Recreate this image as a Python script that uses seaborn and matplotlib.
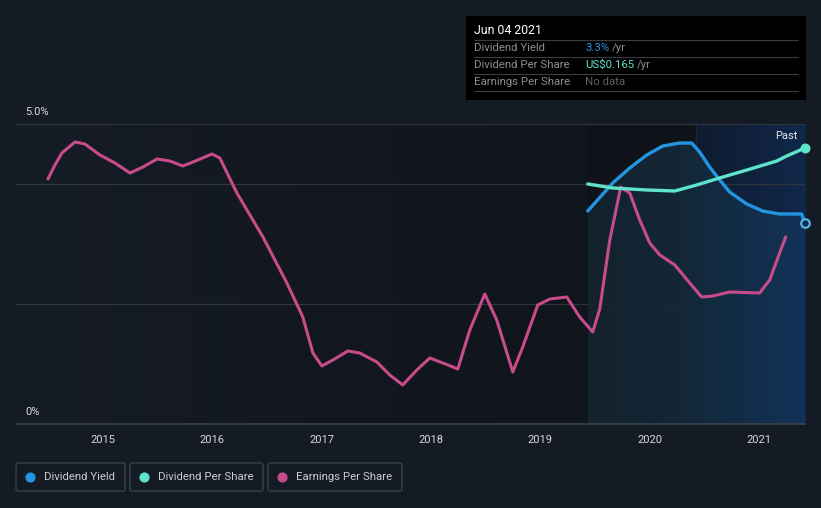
import numpy as np
import pandas as pd
import matplotlib
matplotlib.use("Agg")
import matplotlib.pyplot as plt
import seaborn as sns
from matplotlib.colors import LinearSegmentedColormap
from matplotlib.patches import FancyBboxPatch

sns.set_theme(style="dark")
plt.rcParams['font.family'] = ['Roboto', 'DejaVu Sans']

# ---------------- data ----------------
yield_years = [2019.433, 2019.662, 2019.817, 2019.973, 2020.119, 2020.274,
               2020.384, 2020.457, 2020.548, 2020.640, 2020.731, 2020.887,
               2021.033, 2021.188, 2021.389]
yield_pct = [3.550, 4.017, 4.267, 4.483, 4.633, 4.683,
             4.683, 4.533, 4.283, 4.067, 3.867, 3.667,
             3.550, 3.500, 3.500]
yield_last_year = [2021.42]
yield_last = [3.35]

dps_years = [2019.433, 2019.662, 2019.973, 2020.229, 2020.430, 2020.640,
             2020.887, 2021.161, 2021.252, 2021.398, 2021.42]
dps_usd = [0.1435, 0.1411, 0.1399, 0.1393, 0.1429, 0.1471,
           0.1518, 0.1572, 0.1602, 0.1644, 0.1650]

eps_years = [2014.497, 2014.561, 2014.625, 2014.744, 2014.835, 2014.973,
             2015.110, 2015.247, 2015.366, 2015.494, 2015.612, 2015.731,
             2015.868, 2015.996, 2016.069, 2016.225, 2016.463, 2016.682,
             2016.828, 2016.920, 2017.002, 2017.103, 2017.240,
             2017.349, 2017.505, 2017.623, 2017.742, 2017.870, 2017.989,
             2018.108, 2018.245, 2018.355, 2018.492, 2018.601, 2018.748,
             2018.839, 2018.976, 2019.086, 2019.241, 2019.360, 2019.479,
             2019.543, 2019.635, 2019.735, 2019.817, 2019.909, 2020.000,
             2020.092, 2020.229, 2020.366, 2020.475, 2020.576, 2020.731,
             2021.005, 2021.097, 2021.188, 2021.243]
eps_rel = [4.083, 4.317, 4.517, 4.700, 4.667, 4.483,
           4.350, 4.183, 4.283, 4.417, 4.383, 4.300,
           4.400, 4.500, 4.433, 3.850, 3.117, 2.350,
           1.783, 1.183, 0.967, 1.067, 1.217,
           1.183, 1.033, 0.817, 0.650, 0.900, 1.100,
           1.017, 0.917, 1.567, 2.167, 1.733, 0.867,
           1.283, 1.983, 2.083, 2.117, 1.783, 1.533,
           1.917, 3.067, 3.950, 3.850, 3.400, 3.017,
           2.817, 2.650, 2.350, 2.117, 2.133, 2.200,
           2.183, 2.400, 2.850, 3.117]

year_ticks = [2015, 2016, 2017, 2018, 2019, 2020, 2021]
y_tick_labels = ["0%", "5.0%"]

# ---------------- style ----------------
BG = "#151b24"
C_YIELD = "#2394df"
C_DPS = "#5fe3cb"
C_EPS = "#c84b8c"
XMIN, XMAX = 2014.205, 2021.42
PAST_START = 2020.42
SHADE_START = 2019.433

fig = plt.figure(figsize=(8.21, 5.08), dpi=100, facecolor=BG)
ax = fig.add_axes([16/821, 84/508, 789/821, 300/508])
ax.set_facecolor(BG)
ax.set_xlim(XMIN, XMAX)
ax.set_ylim(0, 5)

grad = np.linspace(0, 1, 256).reshape(1, -1)
bg_cmap = LinearSegmentedColormap.from_list("bg", ["#161c25", "#10141b"])
ax.imshow(grad, extent=[XMIN, SHADE_START, 0, 5], aspect="auto", cmap=bg_cmap,
          zorder=0, origin="lower")
ax.axvspan(SHADE_START, PAST_START, color="#0f1319", zorder=0.1, lw=0)
past_cmap = LinearSegmentedColormap.from_list("past", ["#0e1b2f", "#10284a"])
ax.imshow(grad, extent=[PAST_START, XMAX, 0, 5], aspect="auto", cmap=past_cmap,
          zorder=0.2, origin="lower")
ax.axvline(PAST_START, color="#14294a", lw=1, zorder=0.3)

for gy in [2.0, 4.0, 5.0]:
    ax.axhline(gy, color="#2f353e", lw=0.9, zorder=0.5)

# area under dividend yield (gradient clipped to polygon)
fy = list(yield_years) + [yield_last_year[0]]
fv = list(yield_pct) + [yield_last[0]]
poly = ax.fill_between(fy, fv, 0, color="none", lw=0, zorder=0.6)
area_cmap = LinearSegmentedColormap.from_list("area", ["#14242f", "#142b3e", "#13345a"])
img = ax.imshow(grad, extent=[SHADE_START, XMAX, 0, 5],
                aspect="auto", cmap=area_cmap, zorder=0.6, origin="lower", alpha=0.9)
img.set_clip_path(poly.get_paths()[0], transform=ax.transData)
ax.set_xlim(XMIN, XMAX)
ax.set_ylim(0, 5)

line_kw = dict(solid_joinstyle="round", solid_capstyle="round")
sns.lineplot(x=eps_years, y=eps_rel, ax=ax, color=C_EPS, lw=2.2, zorder=3,
             sort=False, **line_kw)
sns.lineplot(x=fy, y=fv, ax=ax, color=C_YIELD, lw=2.4, zorder=4,
             sort=False, **line_kw)
ax.scatter(yield_last_year, yield_last, s=38, facecolor="#0e2a4a",
           edgecolor="#5bb8f5", lw=1.5, zorder=6, clip_on=False)

ax2 = ax.twinx()
ax2.set_ylim(0, 0.165 * 300 / 276)
sns.lineplot(x=dps_years, y=dps_usd, ax=ax2, color=C_DPS, lw=2.4, zorder=4,
             sort=False, **line_kw)
ax2.scatter([dps_years[-1]], [dps_usd[-1]], s=38, color=C_DPS, zorder=6,
            clip_on=False)
ax2.set_yticks([])
ax2.set_ylabel("")
for s in ax2.spines.values():
    s.set_visible(False)
ax2.set_xlim(XMIN, XMAX)

for s in ax.spines.values():
    s.set_visible(False)
ax.axhline(0, color="#3d434c", lw=1.2, zorder=5, clip_on=False)
ax.set_yticks([])
ax.set_xticks(year_ticks)
ax.set_xticklabels([str(y) for y in year_ticks], color="#d6d9de", fontsize=8)
ax.tick_params(axis="x", length=4, width=1, color="#3d434c", pad=4)
ax.set_xlabel("")
ax.set_ylabel("")

fig.text(25/821, (508-112)/508, y_tick_labels[1], color="#d6d9de", fontsize=8,
         va="center", ha="left")
fig.text(25/821, (508-412)/508, y_tick_labels[0], color="#d6d9de", fontsize=8,
         va="center", ha="left")
fig.text(797/821, (508-136)/508, "Past", color="#e6e8eb", fontsize=8,
         va="center", ha="right", zorder=10)

# tooltip box
tip = fig.add_axes([466/821, (508-100)/508, 340/821, 84/508])
tip.set_facecolor("#000000")
tip.set_xticks([]); tip.set_yticks([])
for s in tip.spines.values():
    s.set_visible(False)
tip.set_xlim(466, 806); tip.set_ylim(100, 16)
tip.text(474, 31, "Jun 04 2021", color="#ffffff", fontsize=8.8, va="center")
rows = [("Dividend Yield", "3.3%", C_YIELD),
        ("Dividend Per Share", "US$0.165", C_DPS),
        ("Earnings Per Share", "No data", "#5c6068")]
fig.canvas.draw()
for i, (lab, val, col) in enumerate(rows):
    yy = 48 + i * 17
    tip.plot([474, 798], [yy - 8.5, yy - 8.5], color="#3a3d42", lw=0.8)
    tip.text(474, yy, lab, color="#8a8e95", fontsize=8.2, va="center")
    t = tip.text(585, yy, val, color=col, fontsize=8.2, va="center")
    if i < 2:
        fig.canvas.draw()
        bb = t.get_window_extent().transformed(tip.transData.inverted())
        tip.text(bb.x1 + 3, yy, "/yr", color="#8a8e95", fontsize=8.2, va="center")
tip.plot([474, 798], [91, 91], color="#3a3d42", lw=0.8)

# legend boxes
leg = fig.add_axes([0, 0, 1, 1], facecolor="none")
leg.set_xlim(0, 821); leg.set_ylim(508, 0)
leg.axis("off")
items = [("Dividend Yield", C_YIELD, 16, 125),
         ("Dividend Per Share", C_DPS, 130, 263),
         ("Earnings Per Share", C_EPS, 268, 402)]
for lab, col, x0, x1 in items:
    leg.add_patch(FancyBboxPatch((x0, 463), x1 - x0, 28,
                                 boxstyle="round,pad=0,rounding_size=2",
                                 fc="none", ec="#3a3f48", lw=1))
    leg.scatter([x0 + 14], [477], s=40, color=col)
    leg.text(x0 + 28, 477.5, lab, color="#c9ccd1", fontsize=8.2, va="center")

fig.savefig("out.png", dpi=100, facecolor=BG)
